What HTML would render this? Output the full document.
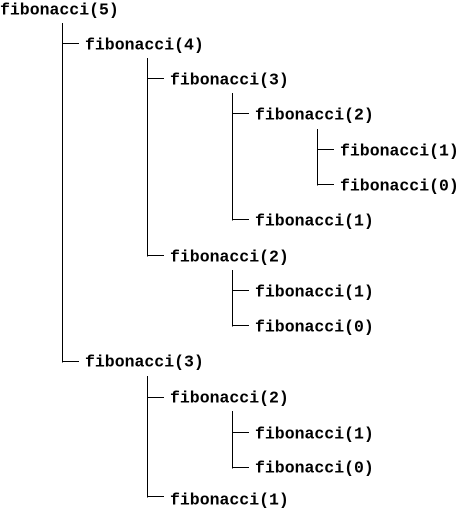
<!DOCTYPE html>
<html><head><style>
html,body{margin:0;padding:0;background:#fff;width:460px;height:512px;overflow:hidden}
text{font-family:"Liberation Mono",monospace;font-size:16.5px;font-weight:bold;fill:#000;dominant-baseline:central}
line{stroke:#000;stroke-width:1}
</style></head><body>
<svg width="460" height="512" xmlns="http://www.w3.org/2000/svg">
<g>
<text x="0" y="10">fibonacci(5)</text>
<text x="85" y="45">fibonacci(4)</text>
<text x="170" y="80">fibonacci(3)</text>
<text x="255" y="115">fibonacci(2)</text>
<text x="340" y="151">fibonacci(1)</text>
<text x="340" y="186">fibonacci(0)</text>
<text x="255" y="221">fibonacci(1)</text>
<text x="170" y="257">fibonacci(2)</text>
<text x="255" y="292">fibonacci(1)</text>
<text x="255" y="327">fibonacci(0)</text>
<text x="85" y="362">fibonacci(3)</text>
<text x="170" y="398">fibonacci(2)</text>
<text x="255" y="434">fibonacci(1)</text>
<text x="255" y="468">fibonacci(0)</text>
<text x="170" y="500">fibonacci(1)</text>
</g>
<g shape-rendering="crispEdges">
<line x1="62.5" y1="23" x2="62.5" y2="362.5"/>
<line x1="62" y1="43.5" x2="79" y2="43.5"/>
<line x1="62" y1="361.5" x2="79" y2="361.5"/>
<line x1="147.5" y1="58" x2="147.5" y2="256.5"/>
<line x1="147" y1="78.5" x2="164" y2="78.5"/>
<line x1="147" y1="255.5" x2="164" y2="255.5"/>
<line x1="232.5" y1="93" x2="232.5" y2="220.5"/>
<line x1="232" y1="113.5" x2="249" y2="113.5"/>
<line x1="232" y1="219.5" x2="249" y2="219.5"/>
<line x1="317.5" y1="129" x2="317.5" y2="185.5"/>
<line x1="317" y1="149.5" x2="334" y2="149.5"/>
<line x1="317" y1="184.5" x2="334" y2="184.5"/>
<line x1="232.5" y1="270" x2="232.5" y2="326.5"/>
<line x1="232" y1="290.5" x2="249" y2="290.5"/>
<line x1="232" y1="325.5" x2="249" y2="325.5"/>
<line x1="147.5" y1="376" x2="147.5" y2="497.5"/>
<line x1="147" y1="397.5" x2="164" y2="397.5"/>
<line x1="147" y1="496.5" x2="164" y2="496.5"/>
<line x1="232.5" y1="411" x2="232.5" y2="468.5"/>
<line x1="232" y1="432.5" x2="249" y2="432.5"/>
<line x1="232" y1="467.5" x2="249" y2="467.5"/>
</g>
</svg>
</body></html>
